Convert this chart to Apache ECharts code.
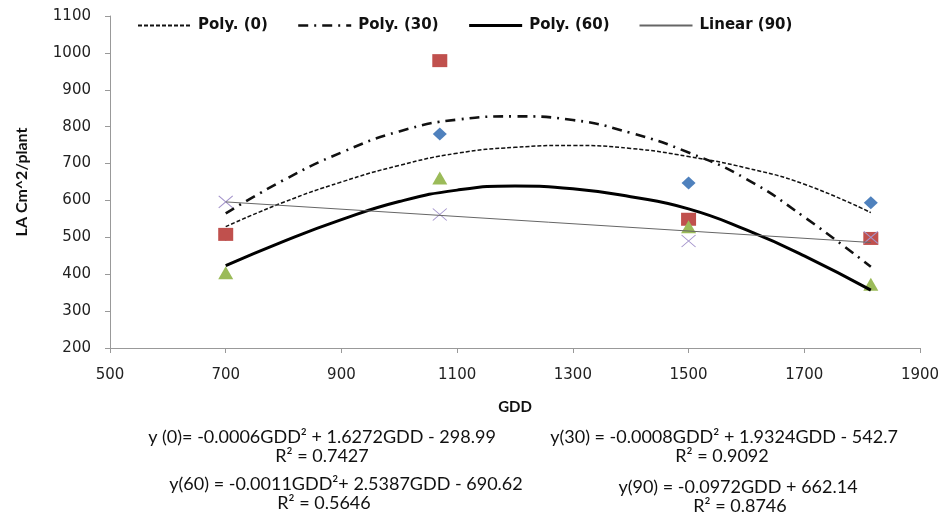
<!DOCTYPE html>
<html>
<head>
<meta charset="utf-8">
<script src="https://cdn.jsdelivr.net/npm/echarts@6/dist/echarts.min.js"></script>
<style>
  html, body { margin: 0; padding: 0; background: #fff; }
  #chart { width: 947px; height: 518px; }
</style>
</head>
<body>
<div id="chart"></div>
<script>
// ---- data ----
const gdd = [700, 1070, 1500, 1815];
const la0 = [508, 780, 647, 594];
const la30 = [508, 979, 549, 497];
const la60 = [404, 661, 529, 373];
const la90 = [596, 562, 490, 500];

// trendline curves
const trendX = [700, 800, 900, 1000, 1100, 1200, 1300, 1400, 1500, 1600, 1700, 1815];
const trend0Y = [529, 595, 650, 695, 728, 744, 749, 741, 719, 688, 644, 567];
const trend30Y = [565, 655, 730, 787, 819, 828, 818, 783, 730, 658, 555, 420];
const trend60Y = [423, 489, 548, 597, 628, 639, 632, 610, 577, 520, 450, 357];
const trend90X = [700, 1815];
const trend90Y = [596, 486];

const legendNames = ['Poly. (0)', 'Poly. (30)', 'Poly. (60)', 'Linear (90)'];
const xTicks = { min: 500, max: 1900, interval: 200 };
const yTicks = { min: 200, max: 1100, interval: 100 };

const equations = [
  'y (0)= -0.0006GDD² + 1.6272GDD - 298.99',
  'R² = 0.7427',
  'y(30) = -0.0008GDD² + 1.9324GDD - 542.7',
  'R² = 0.9092',
  'y(60) = -0.0011GDD²+ 2.5387GDD - 690.62',
  'R² = 0.5646',
  'y(90) = -0.0972GDD + 662.14',
  'R² = 0.8746'
];

function pairs(xs, ys) { return xs.map((x, i) => [x, ys[i]]); }

const chart = echarts.init(document.getElementById('chart'), null, { renderer: 'canvas' });

const axisFont = { fontFamily: 'DejaVu Sans', fontSize: 15, color: '#222' };
const eqFont = 'Lato';

const xMarkPath = 'path://M0,0L10,10M10,0L0,10';

function eqText(text, cx, cy) {
  return {
    type: 'text', x: cx, y: cy,
    style: { text: text, fontFamily: eqFont, fontSize: 18, fill: '#111', textAlign: 'center', textVerticalAlign: 'middle' }
  };
}

chart.setOption({
  animation: false,
  backgroundColor: '#fff',
  grid: { left: 110, right: 27, top: 16, bottom: 170 },
  legend: {
    data: [
      { name: legendNames[0] },
      { name: legendNames[1], lineStyle: { width: 2.6 } },
      { name: legendNames[2], lineStyle: { width: 3.2 } },
      { name: legendNames[3] }
    ],
    top: 13, left: 132,
    itemWidth: 53, itemHeight: 10, itemGap: 29,
    itemStyle: { opacity: 0 },
    textStyle: { fontFamily: 'DejaVu Sans', fontWeight: 'bold', fontSize: 15, color: '#111', padding: [0, 0, 0, 2] }
  },
  xAxis: {
    type: 'value', min: xTicks.min, max: xTicks.max, interval: xTicks.interval,
    name: 'GDD', nameLocation: 'middle', nameGap: 52,
    nameTextStyle: { fontFamily: eqFont, fontWeight: 'bold', fontSize: 15, color: '#111' },
    axisLine: { lineStyle: { color: '#999' } },
    axisTick: { show: true, length: 5, lineStyle: { color: '#999' } },
    axisLabel: Object.assign({ margin: 20, formatter: v => String(v) }, axisFont),
    splitLine: { show: false }
  },
  yAxis: {
    type: 'value', min: yTicks.min, max: yTicks.max, interval: yTicks.interval,
    name: 'LA Cm^2/plant', nameLocation: 'middle', nameGap: 80, nameRotate: 90,
    nameTextStyle: { fontFamily: eqFont, fontWeight: 'bold', fontSize: 16, color: '#111' },
    axisLine: { show: true, lineStyle: { color: '#999' } },
    axisTick: { show: true, length: 5, lineStyle: { color: '#999' } },
    axisLabel: Object.assign({ margin: 19, formatter: v => String(v) }, axisFont),
    splitLine: { show: false }
  },
  series: [
    { name: 's0', type: 'scatter', data: pairs(gdd, la0), symbol: 'diamond', symbolSize: [14, 13],
      itemStyle: { color: '#4F81BD', opacity: 1 }, z: 2 },
    { name: 's30', type: 'scatter', data: pairs(gdd, la30), symbol: 'rect', symbolSize: [15, 13],
      itemStyle: { color: '#C0504D', opacity: 1 }, z: 2 },
    { name: 's60', type: 'scatter', data: pairs(gdd, la60), symbol: 'triangle', symbolSize: [15, 13],
      itemStyle: { color: '#9BBB59', opacity: 1 }, z: 2 },
    { name: 's90', type: 'scatter', data: pairs(gdd, la90), symbol: xMarkPath, symbolSize: [14, 12],
      itemStyle: { color: 'none', borderColor: '#A595CC', borderWidth: 1, opacity: 1 }, z: 2 },
    { name: legendNames[0], type: 'line', data: pairs(trendX, trend0Y), smooth: true, symbol: 'none',
      lineStyle: { color: '#111', width: 1.5, type: [4, 2] }, itemStyle: { color: '#111' }, z: 3 },
    { name: legendNames[1], type: 'line', data: pairs(trendX, trend30Y), smooth: true, symbol: 'none',
      lineStyle: { color: '#111', width: 2.6, type: [10, 6, 2, 6] }, itemStyle: { color: '#111' }, z: 3 },
    { name: legendNames[2], type: 'line', data: pairs(trendX, trend60Y), smooth: true, symbol: 'none',
      lineStyle: { color: '#000', width: 3 }, itemStyle: { color: '#000' }, z: 3 },
    { name: legendNames[3], type: 'line', data: pairs(trend90X, trend90Y), symbol: 'none',
      lineStyle: { color: '#666', width: 1 }, itemStyle: { color: '#666' }, z: 3 }
  ],
  graphic: [
    eqText(equations[0], 322, 437),
    eqText(equations[1], 322, 456),
    eqText(equations[2], 724, 437),
    eqText(equations[3], 722, 456),
    eqText(equations[4], 346, 484),
    eqText(equations[5], 324, 503),
    eqText(equations[6], 738, 487),
    eqText(equations[7], 740, 506)
  ]
});
</script>
</body>
</html>
